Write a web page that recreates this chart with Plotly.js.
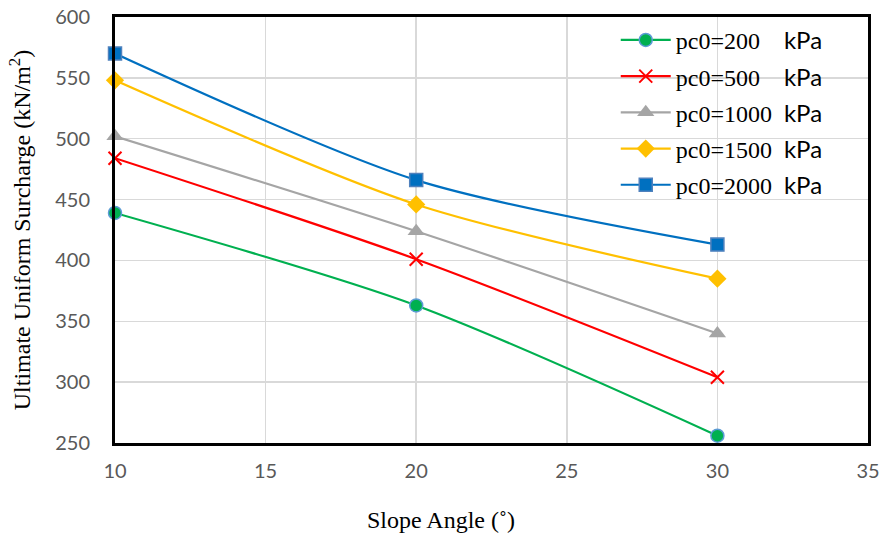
<!DOCTYPE html>
<html><head><meta charset="utf-8">
<script src="https://cdn.plot.ly/plotly-3.0.1.min.js"></script>
<style>body{margin:0;background:#fff}#c{width:885px;height:540px}</style>
</head><body><div id="c"></div>
<script>
const angles = [10, 20, 30];
const pc200 = [439, 363, 256];
const pc500 = [484, 401, 304];
const pc1000 = [502, 424, 340];
const pc1500 = [548, 446, 385];
const pc2000 = [570, 466, 413];
const seriesNames = ['pc0=200', 'pc0=500', 'pc0=1000', 'pc0=1500', 'pc0=2000'];
const unitLabel = 'kPa';
const xTitle = 'Slope Angle (˚)';
const yTitle = 'Ultimate Uniform Surcharge (kN/m<sup>2</sup>)';

const serif = 'Liberation Serif, Times New Roman, serif';
const sans = 'Lato, Open Sans, sans-serif';
function nm(n, gap){ return n + gap + '<span style="font-family:Lato, sans-serif;font-size:24px">' + unitLabel + '</span>'; }

const styles = [
  {y: pc200, color:'#00b050', marker:{symbol:'circle', size:13, color:'#00b050', line:{color:'#5b9bd5', width:1.5}}, gap:'&nbsp;&nbsp;&nbsp;&nbsp;'},
  {y: pc500, color:'#ff0000', marker:{symbol:'x-thin', size:13, color:'#ff0000', line:{color:'#ff0000', width:2}}, gap:'&nbsp;&nbsp;&nbsp;&nbsp;'},
  {y: pc1000, color:'#a5a5a5', marker:{symbol:'triangle-up', size:15, color:'#a5a5a5'}, gap:'&nbsp;&nbsp;'},
  {y: pc1500, color:'#ffc000', marker:{symbol:'diamond', size:14, color:'#ffc000'}, gap:'&nbsp;&nbsp;'},
  {y: pc2000, color:'#0070c0', marker:{symbol:'square', size:13, color:'#0070c0', line:{color:'#4f81bd', width:1.5}}, gap:'&nbsp;&nbsp;'}
];

const data = styles.map((s, i) => ({
  x: angles, y: s.y, type:'scatter', mode:'lines+markers', cliponaxis:false,
  name: nm(seriesNames[i], s.gap), legendgroup:'g'+i,
  line:{color:s.color, width:2.2, shape:'spline', smoothing:0.8},
  marker: s.marker
}));

const layout = {
  width:885, height:540,
  margin:{l:115, r:17, t:17, b:97},
  paper_bgcolor:'#fff', plot_bgcolor:'#fff',
  showlegend:true,
  legend:{x:0.665, y:0.998, xanchor:'left', yanchor:'top', bgcolor:'rgba(0,0,0,0)',
          font:{family:serif, size:24, color:'#000'}, tracegroupgap:2, itemwidth:50},
  xaxis:{range:[10,35], dtick:5, tick0:10, showgrid:true, gridcolor:'#d9d9d9', gridwidth:1.5,
         showline:true, linecolor:'#000', linewidth:3, mirror:true, zeroline:false,
         ticks:'outside', ticklen:8, tickcolor:'rgba(0,0,0,0)',
         tickfont:{family:sans, size:20, color:'#595959'}},
  yaxis:{range:[250,600], dtick:50, tick0:250, showgrid:true, gridcolor:'#d9d9d9', gridwidth:1.5,
         showline:true, linecolor:'#000', linewidth:3, mirror:true, zeroline:false,
         ticks:'outside', ticklen:18, tickcolor:'rgba(0,0,0,0)',
         tickfont:{family:sans, size:20, color:'#595959'},
         title:{text:yTitle, font:{family:serif, size:24, color:'#000'}, standoff:18}},
  annotations:[{text:xTitle, xref:'paper', yref:'paper', x:0.433, y:-0.181, xanchor:'center', yanchor:'middle',
                showarrow:false, font:{family:serif, size:24, color:'#000'}}]
};
Plotly.newPlot('c', data, layout, {displayModeBar:false, staticPlot:true});
</script></body></html>
